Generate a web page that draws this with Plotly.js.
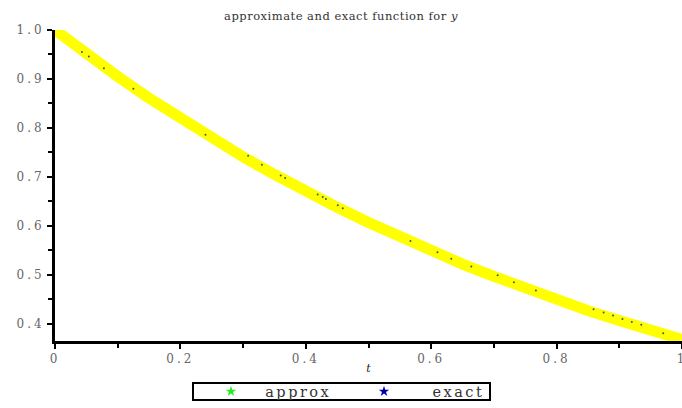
<!DOCTYPE html>
<html><head><meta charset="utf-8">
<script src="https://cdn.plot.ly/plotly-3.0.1.min.js"></script>
<style>
html,body{margin:0;padding:0;background:#fff}#c{width:682px;height:408px}
#c .xtick text, #c .ytick text{letter-spacing:3px}
#c .legendtext{letter-spacing:2.5px}
#c .gtitle{letter-spacing:0.5px}
</style>
</head><body><div id="c"></div>
<script>
// exact curve
const tExact = [0,0.05,0.1,0.15,0.2,0.25,0.3,0.35,0.4,0.45,0.5,0.55,0.6,0.65,0.7,0.75,0.8,0.85,0.9,0.95,1.0];
const yExact = [1.0,0.951,0.905,0.861,0.819,0.779,0.741,0.705,0.670,0.638,0.607,0.577,0.549,0.522,0.497,0.472,0.449,0.427,0.407,0.387,0.368];
// approx points (small dots)
const tApprox = [0.043,0.054,0.078,0.125,0.24,0.308,0.33,0.36,0.367,0.419,0.427,0.432,0.451,0.459,0.567,0.61,0.632,0.664,0.706,0.732,0.767,0.859,0.875,0.89,0.905,0.92,0.935,0.97];
const yApprox = [0.955,0.946,0.922,0.880,0.786,0.743,0.725,0.703,0.698,0.664,0.659,0.655,0.642,0.636,0.569,0.546,0.533,0.517,0.499,0.485,0.468,0.430,0.423,0.417,0.410,0.404,0.398,0.381];
const legendNames = ['approx','exact'];
const xTicks = [0,0.2,0.4,0.6,0.8,1];
const xTickText = ['0','0.2','0.4','0.6','0.8','1'];
const yTicks = [0.4,0.5,0.6,0.7,0.8,0.9,1.0];
const yTickText = ['0.4','0.5','0.6','0.7','0.8','0.9','1.0'];

const serif = 'DejaVu Serif, Liberation Serif, serif';
const nb = n => '\u00a0'.repeat(n);
const data = [
  {x:tExact, y:yExact, mode:'lines', line:{color:'#ffff00', width:11}, showlegend:false, hoverinfo:'skip'},
  {x:tApprox, y:yApprox, mode:'markers', marker:{color:'#2f5f5f', size:2}, showlegend:false},
  {x:[null], y:[null], mode:'markers', name:nb(2)+legendNames[0], marker:{color:'#22ee22', size:8, symbol:'star'}},
  {x:[null], y:[null], mode:'markers', name:nb(4)+legendNames[1], marker:{color:'#0000b0', size:8, symbol:'star'}}
];
// legend frame in plot-paper coordinates (plot area x 55..682, y 30..341 px)
const px2x = p => (p-55)/627, py2y = p => (341-p)/311;
const layout = {
  width:682, height:408,
  margin:{l:55, r:0, t:30, b:67},
  paper_bgcolor:'#fff', plot_bgcolor:'#fff',
  title:{text:'approximate and exact function for <i>y</i>', font:{family:serif, size:11.5, color:'#333'}, x:0.5, xref:'container', y:0.962, yanchor:'middle'},
  font:{family:serif, color:'#555'},
  xaxis:{range:[0,1], showgrid:false, zeroline:false, showline:true, linecolor:'#000', linewidth:3,
    ticks:'outside', ticklen:5, tickwidth:2, tickcolor:'#000', tickvals:xTicks, ticktext:xTickText,
    ticklabeloverflow:'allow',
    minor:{tickvals:[0.1,0.3,0.5,0.7,0.9], ticks:'outside', ticklen:4, tickwidth:2, tickcolor:'#000'},
    tickfont:{family:serif, size:12, color:'#666'},
    title:{text:'<i>t</i>', font:{family:serif, size:11, color:'#222'}, standoff:6}},
  yaxis:{range:[0.365,1.0], showgrid:false, zeroline:false, showline:true, linecolor:'#000', linewidth:3,
    ticks:'outside', ticklen:5, tickwidth:2, tickcolor:'#000', tickvals:yTicks, ticktext:yTickText,
    minor:{tickvals:[0.45,0.55,0.65,0.75,0.85,0.95], ticks:'outside', ticklen:4, tickwidth:2, tickcolor:'#000'},
    tickfont:{family:serif, size:12, color:'#666'}},
  shapes:[{type:'rect', xref:'paper', yref:'paper', x0:px2x(193), x1:px2x(490), y0:py2y(383), y1:py2y(400),
    line:{color:'#000', width:2}, fillcolor:'rgba(0,0,0,0)'}],
  showlegend:true,
  legend:{orientation:'h', xref:'container', yref:'container', x:211/682, xanchor:'left', y:(408-391.5)/408, yanchor:'middle',
    borderwidth:0, bgcolor:'rgba(0,0,0,0)', font:{family:serif, size:14.5, color:'#333'},
    entrywidth:108, itemclick:false, tracegroupgap:0, itemwidth:30}
};
Plotly.newPlot('c', data, layout, {displayModeBar:false, staticPlot:true});
</script></body></html>
